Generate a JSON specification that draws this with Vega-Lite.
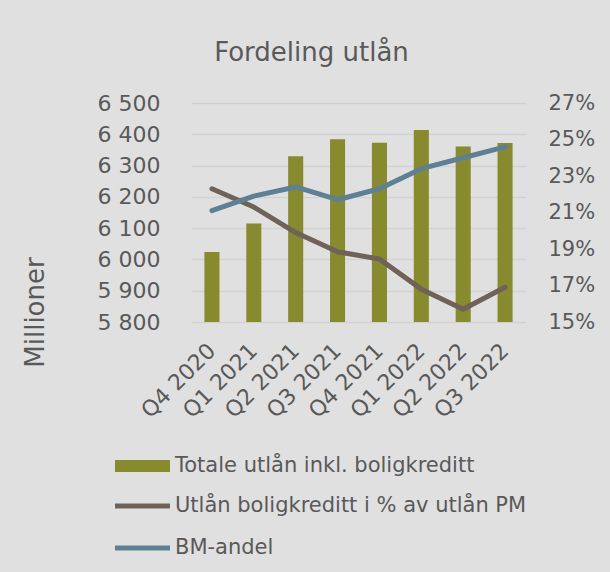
{
  "$schema": "https://vega.github.io/schema/vega-lite/v6.json",
  "width": 335,
  "height": 219,
  "autosize": {"type": "none"},
  "padding": {"left": 191, "top": 103, "right": 84, "bottom": 250},
  "background": "#e0e0e0",
  "config": {"view": {"stroke": null}, "font": "DejaVu Sans"},
  "title": {
    "text": "Fordeling utlån",
    "fontSize": 26,
    "fontWeight": "normal",
    "color": "#595959",
    "font": "DejaVu Sans",
    "anchor": "middle",
    "dx": -47,
    "baseline": "alphabetic",
    "offset": 5
  },
  "datasets": {
    "bars": [
      {"kvartal": "Q4 2020", "utlan": 6024},
      {"kvartal": "Q1 2021", "utlan": 6115},
      {"kvartal": "Q2 2021", "utlan": 6330},
      {"kvartal": "Q3 2021", "utlan": 6384},
      {"kvartal": "Q4 2021", "utlan": 6373},
      {"kvartal": "Q1 2022", "utlan": 6414},
      {"kvartal": "Q2 2022", "utlan": 6361},
      {"kvartal": "Q3 2022", "utlan": 6372}
    ],
    "lines": [
      {"kvartal": "Q4 2020", "serie": "Utlån boligkreditt i % av utlån PM", "andel": 0.223},
      {"kvartal": "Q1 2021", "serie": "Utlån boligkreditt i % av utlån PM", "andel": 0.213},
      {"kvartal": "Q2 2021", "serie": "Utlån boligkreditt i % av utlån PM", "andel": 0.199},
      {"kvartal": "Q3 2021", "serie": "Utlån boligkreditt i % av utlån PM", "andel": 0.1885},
      {"kvartal": "Q4 2021", "serie": "Utlån boligkreditt i % av utlån PM", "andel": 0.1845},
      {"kvartal": "Q1 2022", "serie": "Utlån boligkreditt i % av utlån PM", "andel": 0.168},
      {"kvartal": "Q2 2022", "serie": "Utlån boligkreditt i % av utlån PM", "andel": 0.157},
      {"kvartal": "Q3 2022", "serie": "Utlån boligkreditt i % av utlån PM", "andel": 0.169},
      {"kvartal": "Q4 2020", "serie": "BM-andel", "andel": 0.211},
      {"kvartal": "Q1 2021", "serie": "BM-andel", "andel": 0.219},
      {"kvartal": "Q2 2021", "serie": "BM-andel", "andel": 0.224},
      {"kvartal": "Q3 2021", "serie": "BM-andel", "andel": 0.217},
      {"kvartal": "Q4 2021", "serie": "BM-andel", "andel": 0.223},
      {"kvartal": "Q1 2022", "serie": "BM-andel", "andel": 0.234},
      {"kvartal": "Q2 2022", "serie": "BM-andel", "andel": 0.240},
      {"kvartal": "Q3 2022", "serie": "BM-andel", "andel": 0.246}
    ]
  },
  "layer": [
    {
      "data": {"name": "bars"},
      "mark": {"type": "bar"},
      "encoding": {
        "x": {
          "field": "kvartal",
          "type": "ordinal",
          "sort": null,
          "scale": {
            "domain": ["Q4 2020", "Q1 2021", "Q2 2021", "Q3 2021", "Q4 2021", "Q1 2022", "Q2 2022", "Q3 2022"],
            "paddingInner": 0.64,
            "paddingOuter": 0.32
          },
          "axis": {
            "title": null,
            "labelAngle": -45,
            "labelAlign": "right",
            "labelBaseline": "middle",
            "labelFontSize": 22,
            "labelColor": "#595959",
            "labelPadding": 25,
            "ticks": false,
            "domain": false
          }
        },
        "y": {
          "field": "utlan",
          "type": "quantitative",
          "scale": {"domain": [5800, 6500], "zero": false, "nice": false},
          "axis": {
            "title": "Millioner",
            "titleFontSize": 26,
            "titleFontWeight": "normal",
            "titleColor": "#595959",
            "titleX": -156,
            "titleY": 209,
            "titleAlign": "center",
            "titleBaseline": "middle",
            "titleAngle": -90,
            "values": [5800, 5900, 6000, 6100, 6200, 6300, 6400, 6500],
            "labelExpr": "replace(format(datum.value, ',d'), ',', ' ')",
            "labelFontSize": 22,
            "labelColor": "#595959",
            "labelPadding": 31,
            "ticks": false,
            "domain": false,
            "grid": true,
            "gridColor": "#d2d2d2",
            "gridWidth": 1.5
          }
        },
        "y2": {"datum": 5800},
        "fill": {
          "datum": "Totale utlån inkl. boligkreditt",
          "scale": {"range": ["#888a2e"]},
          "legend": {
            "orient": "none",
            "legendX": -59,
            "legendY": 352.5,
            "title": null,
            "padding": 0,
            "symbolType": "M-5.5,-1.2H5.5V1.2H-5.5Z",
            "symbolSize": 100,
            "symbolStrokeWidth": 0,
            "symbolOpacity": 1,
            "labelOffset": 22,
            "labelFontSize": 21,
            "labelColor": "#595959",
            "labelLimit": 500
          }
        }
      }
    },
    {
      "data": {"name": "lines"},
      "mark": {"type": "line", "strokeWidth": 5, "strokeCap": "round", "strokeJoin": "round"},
      "encoding": {
        "x": {"field": "kvartal", "type": "ordinal", "sort": null},
        "y": {
          "field": "andel",
          "type": "quantitative",
          "scale": {"domain": [0.15, 0.27], "zero": false, "nice": false},
          "axis": {
            "orient": "right",
            "title": null,
            "values": [0.15, 0.17, 0.19, 0.21, 0.23, 0.25, 0.27],
            "format": ".0%",
            "labelFontSize": 21,
            "labelColor": "#595959",
            "labelPadding": 22,
            "ticks": false,
            "domain": false,
            "grid": false
          }
        },
        "stroke": {
          "field": "serie",
          "type": "nominal",
          "scale": {
            "domain": ["Utlån boligkreditt i % av utlån PM", "BM-andel"],
            "range": ["#6e6259", "#5e7f94"]
          },
          "legend": {
            "orient": "none",
            "legendX": -59,
            "legendY": 392.5,
            "title": null,
            "padding": 0,
            "symbolType": "M-5.5,0H5.5",
            "symbolSize": 100,
            "symbolStrokeWidth": 5,
            "labelOffset": 22,
            "labelFontSize": 21,
            "labelColor": "#595959",
            "labelLimit": 500,
            "rowPadding": 20
          }
        }
      }
    }
  ],
  "resolve": {"scale": {"y": "independent"}}
}
